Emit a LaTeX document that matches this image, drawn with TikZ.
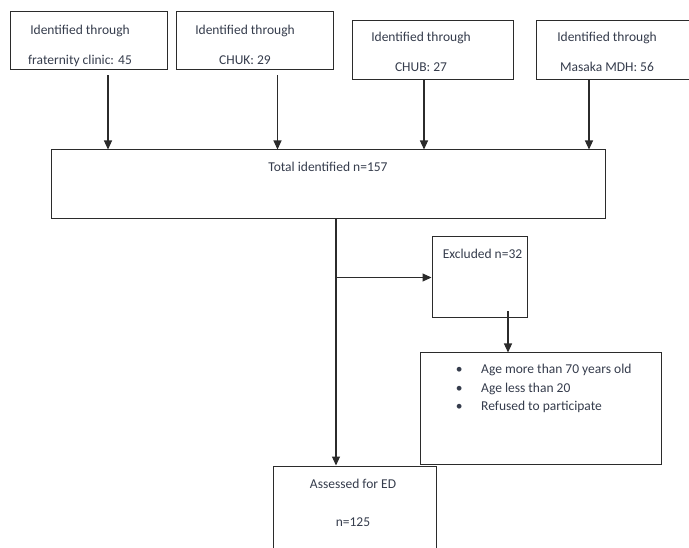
\documentclass[tikz,border=0pt]{standalone}
\usepackage{fontspec}
\setmainfont{Carlito}
\usepackage{xcolor}
\usetikzlibrary{arrows.meta,positioning}
\definecolor{lgrey}{HTML}{2B2B2B}
\definecolor{ltext}{HTML}{353C4C}
\newcommand\critem{\makebox[14pt]{\textbullet}\hspace{15pt}}

\begin{document}
\begin{tikzpicture}[
  x=1pt, y=-1pt,
  every node/.style={font=\fontsize{13.5}{16}\selectfont},
  bx/.style={draw=lgrey,line width=1pt,inner sep=0pt,minimum width=157pt,minimum height=58pt},
  lbl/.style={inner sep=0pt,text=ltext,align=center},
  twoline/.style={font=\fontsize{13.5}{30}\selectfont},
  arrow/.style={-{Triangle[length=9pt,width=8pt]},line width=1.1pt,lgrey}
]
\useasboundingbox (0,0) rectangle (689,548);
% source boxes
\node[bx] (src1) at (88.5,41) {};
\node[bx,right=8pt of src1] (src2) {};
\node[bx,minimum width=161pt,minimum height=59pt] (src3) at (432.5,50.5) {};
\node[bx,minimum width=161pt,minimum height=59pt,right=22pt of src3] (src4) {};
\node[lbl,twoline] (src1t) at (80,45.5) {Identified through\\fraternity clinic: 45};
\node[lbl,twoline] (src2t) at (245,44.5) {Identified through\\CHUK: 29};
\node[lbl,twoline] (src3t) at (421,51.5) {Identified through\\CHUB: 27};
\node[lbl,twoline] (src4t) at (607,51.5) {Identified through\\Masaka MDH: 56};
% total and exclusions
\node[bx,minimum width=554pt,minimum height=69pt] (total) at (328,184.5) {};
\node[lbl] (totalt) at (328,166.5) {Total identified n=157};
\node[bx,minimum width=95pt,minimum height=81pt] (excl) at (479.5,277.5) {};
\node[lbl] (exclt) at (482.5,253.5) {Excluded n=32};
\node[bx,minimum width=241pt,minimum height=111pt] (crit) at (540.5,408.5) {};
\node[lbl,align=left,anchor=north west,font=\fontsize{13.5}{18.5}\selectfont] (critt) at (452,364)
  {\critem Age more than 70 years old\\\critem Age less than 20\\\critem Refused to participate};
\node[bx,minimum width=163pt,minimum height=94pt] (assessed) at (354.5,513) {};
\node[lbl,font=\fontsize{13.5}{38}\selectfont] (assessedt) at (353,502.5) {Assessed for ED\\n=125};
% connectors
\coordinate (spine) at ([xshift=8pt]total.south);
\draw[arrow] ([xshift=19.5pt,yshift=-5pt]src1.south) -- ([xshift=19.5pt]src1.south |- total.north);
\draw[arrow] ([xshift=23pt,yshift=-5pt]src2.south) -- ([xshift=23pt]src2.south |- total.north);
\draw[arrow] ([xshift=-8.5pt]src3.south) -- ([xshift=-8.5pt]src3.south |- total.north);
\draw[arrow] ([xshift=-27.5pt]src4.south) -- ([xshift=-27.5pt]src4.south |- total.north);
\draw[arrow] (spine) -- (spine |- assessed.north);
\draw[arrow] (spine |- excl.west) -- (excl.west);
\draw[arrow] ([xshift=28.5pt,yshift=7pt]excl.south) -- ([xshift=28.5pt]excl.south |- crit.north);
\end{tikzpicture}
\end{document}
